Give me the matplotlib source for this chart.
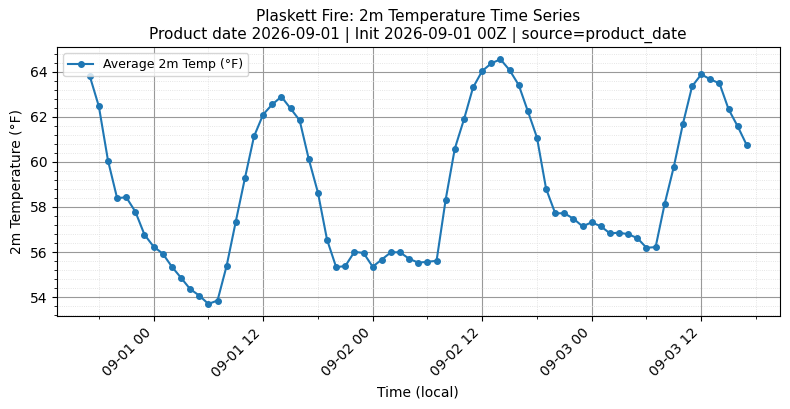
import matplotlib
matplotlib.use("Agg")
import matplotlib.pyplot as plt
import matplotlib.dates as mdates
from matplotlib.ticker import AutoMinorLocator
import pandas as pd

start_time = "2026-08-31 17:00"
temps_f = [
    63.81, 62.46, 60.06, 58.39, 58.43, 57.79, 56.77, 56.24, 55.93, 55.35,
    54.86, 54.36, 54.07, 53.70, 53.85, 55.39, 57.35, 59.27, 61.13, 62.10,
    62.55, 62.89, 62.37, 61.84, 60.12, 58.64, 56.55, 55.33, 55.38, 56.01,
    55.96, 55.35, 55.67, 55.99, 55.99, 55.70, 55.53, 55.57, 55.61, 58.33,
    60.59, 61.88, 63.30, 64.03, 64.37, 64.55, 64.07, 63.41, 62.25, 61.08,
    58.81, 57.72, 57.72, 57.48, 57.14, 57.32, 57.14, 56.83, 56.86, 56.79,
    56.62, 56.19, 56.22, 58.15, 59.79, 61.70, 63.35, 63.88, 63.66, 63.48,
    62.33, 61.57, 60.73,
]
times = pd.date_range(start_time, periods=len(temps_f), freq="h")

title = "Plaskett Fire: 2m Temperature Time Series\nProduct date 2026-09-01 | Init 2026-09-01 00Z | source=product_date"
series_label = "Average 2m Temp (°F)"

fig, ax = plt.subplots(figsize=(7.9, 4.09), dpi=100)
ax.plot(times, temps_f, marker="o", markersize=4, linewidth=1.5, color="#1f77b4", label=series_label)

ax.xaxis.set_major_locator(mdates.HourLocator(byhour=[0, 12]))
ax.xaxis.set_minor_locator(mdates.HourLocator(byhour=[0, 6, 12, 18]))
ax.xaxis.set_major_formatter(mdates.DateFormatter("%m-%d %H"))
ax.yaxis.set_minor_locator(AutoMinorLocator(5))

ax.grid(which="major", color="#999999", linestyle="-", linewidth=0.8)
ax.grid(which="minor", color="#dddddd", linestyle=":", linewidth=0.6)

ax.set_title(title, fontsize=11)
ax.set_xlabel("Time (local)")
ax.set_ylabel("2m Temperature (°F)")
ax.legend(loc="upper left", fontsize=9)
plt.setp(ax.get_xticklabels(), rotation=45, ha="right")

fig.subplots_adjust(left=0.072, right=0.987, top=0.885, bottom=0.227)
fig.savefig("out.png", dpi=100)
